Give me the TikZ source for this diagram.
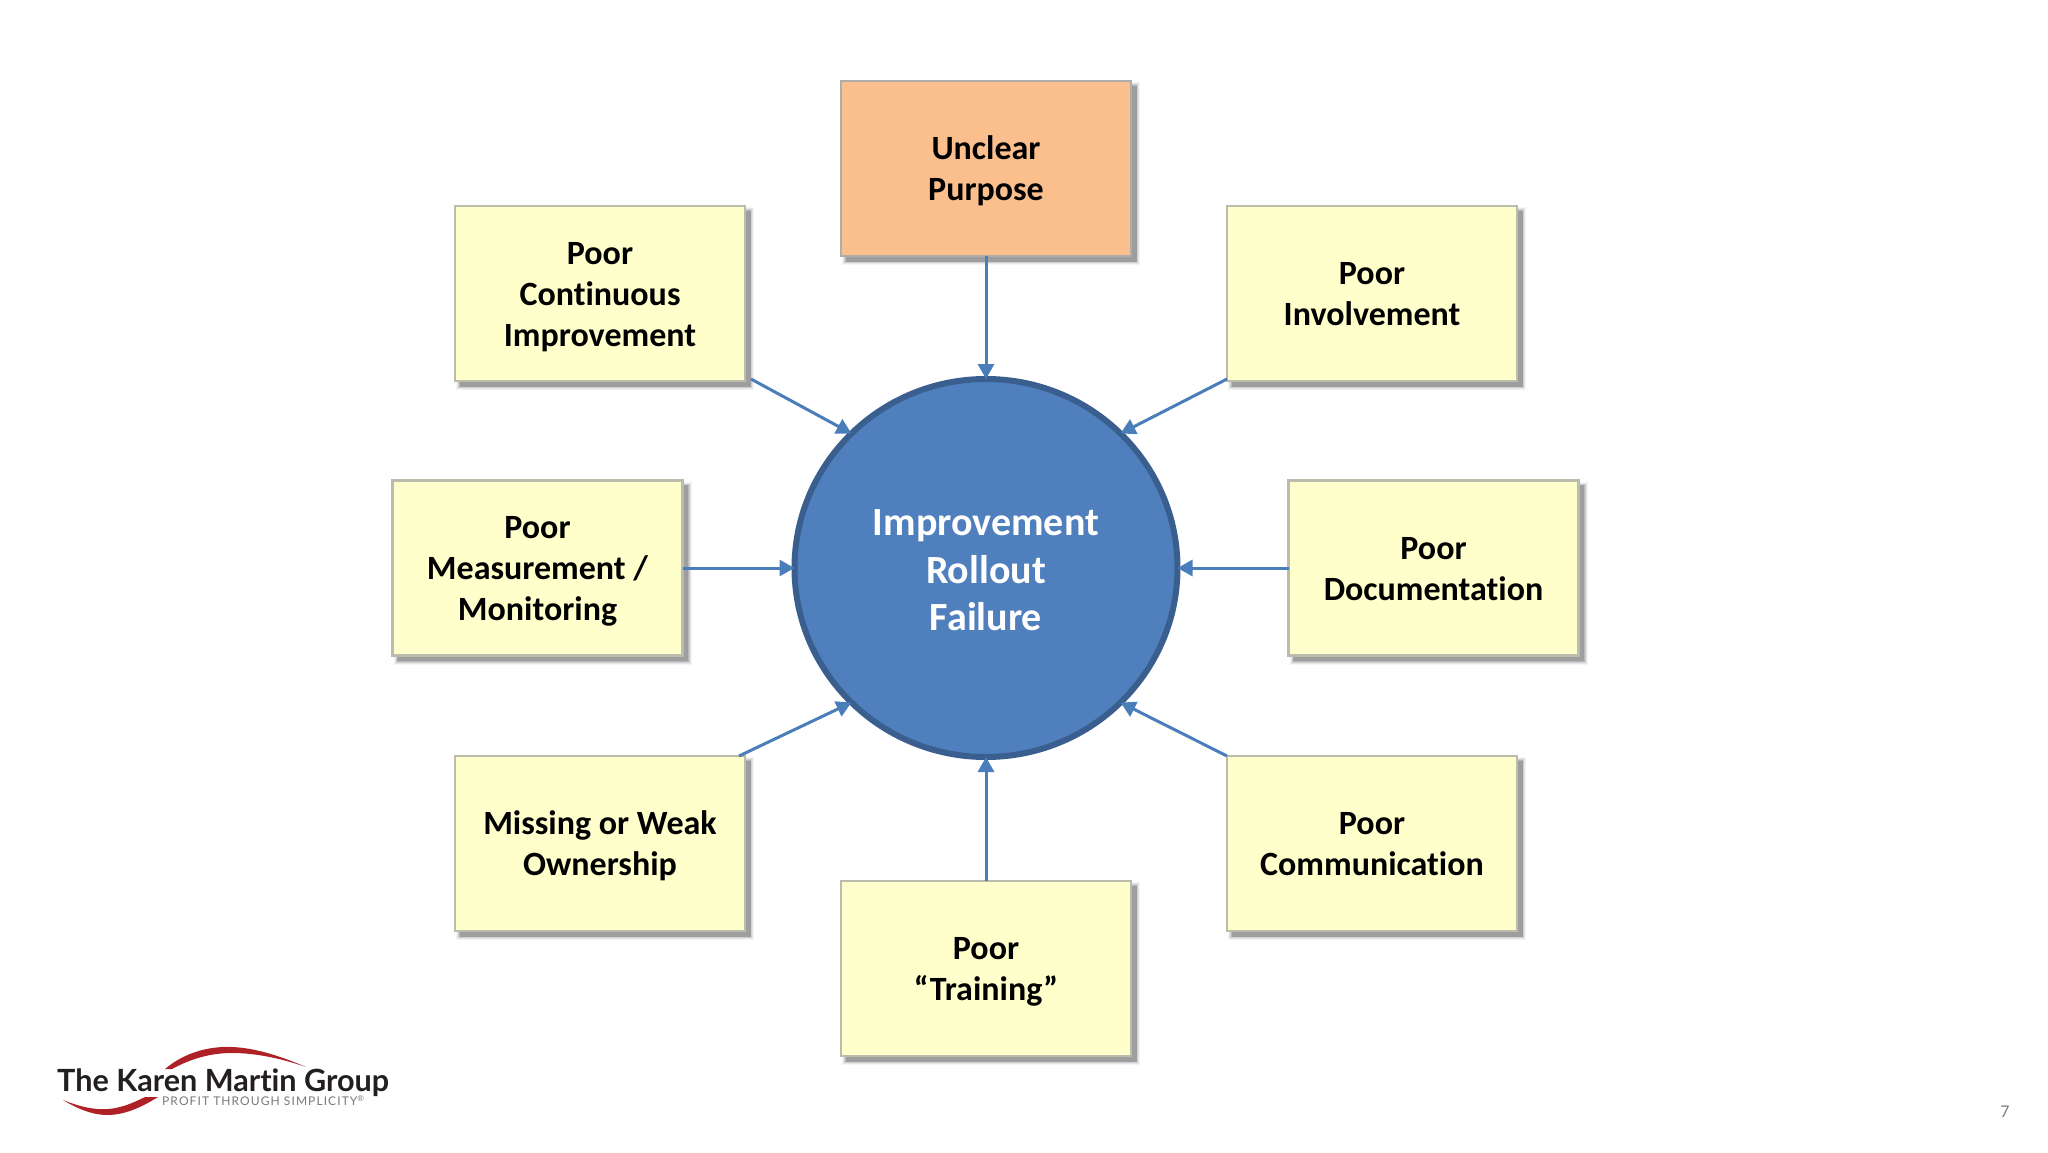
\documentclass[tikz,border=0pt]{standalone}
\usepackage{fontspec}
\setmainfont[Ligatures={NoCommon}]{Carlito}
\newfontfamily\logofont[Ligatures={NoCommon}]{Lato}
\newfontfamily\tagfont[LetterSpace=9,Ligatures={NoCommon}]{Lato}
\usetikzlibrary{shadows,arrows.meta,shapes.geometric}
\definecolor{boxfill}{HTML}{FFFFCC}
\definecolor{boxline}{HTML}{BCBCAC}
\definecolor{orangefill}{HTML}{FBBF8E}
\definecolor{orangeline}{HTML}{ADADAD}
\definecolor{circfill}{HTML}{4F7FBC}
\definecolor{circline}{HTML}{3A5F8E}
\definecolor{arrowblue}{HTML}{4A7EBB}
\definecolor{logored}{HTML}{AE2126}
\definecolor{logotext}{HTML}{231F20}
\definecolor{taggray}{HTML}{7A7A7A}
\newcommand{\tl}{\rule{0pt}{32pt}}
\newcommand{\bl}{\rule[-9pt]{0pt}{1pt}}
\tikzset{
  softshadow/.style={
    general shadow={shadow xshift=5pt,shadow yshift=-5pt,fill=black!4,draw=black!4,line width=8pt},
    general shadow={shadow xshift=5pt,shadow yshift=-5pt,fill=black!10,draw=black!10,line width=6pt},
    general shadow={shadow xshift=5pt,shadow yshift=-5pt,fill=black!18,draw=black!18,line width=4pt},
    general shadow={shadow xshift=5pt,shadow yshift=-5pt,fill=black!28,draw=black!28,line width=2pt},
    general shadow={shadow xshift=5pt,shadow yshift=-5pt,fill=black!38,draw=black!38,line width=0.5pt}},
  causebox/.style={rectangle,softshadow,draw=boxline,fill=boxfill,line width=2.5pt,
    minimum width=290pt,minimum height=175pt,inner sep=0pt,outer sep=0pt,align=center,
    text=black,font=\fontsize{34}{41}\selectfont\bfseries},
  orangebox/.style={causebox,draw=orangeline,fill=orangefill},
  hub/.style={ellipse,draw=circline,fill=circfill,line width=6pt,minimum width=383pt,minimum height=378pt,inner sep=0pt,
    outer sep=0pt,align=center,text=white,font=\fontsize{40}{47.5}\selectfont\bfseries},
  link/.style={draw=arrowblue,line width=3pt,-{Triangle[length=15pt,width=16pt]}}
}
\begin{document}
\begin{tikzpicture}[x=1pt,y=-1pt]
\useasboundingbox[fill=white] (0,0) rectangle (2048,1152);
\node[hub] (hubnode) at (986,568) {\rule{0pt}{34pt}Improvement\\Rollout\\Failure\rule[-4pt]{0pt}{1pt}};
\node[orangebox] (purpose) at (986,168.5) {\tl Unclear\\Purpose\bl};
\node[causebox] (cont) at (600,293.5) {\tl Poor\\Continuous\\Improvement\bl};
\node[causebox] (invol) at (1372,293.5) {\tl Poor\\Involvement\bl};
\node[causebox] (meas) at (537.5,568) {\tl Poor\\Measurement /\\Monitoring\bl};
\node[causebox] (docu) at (1433.5,568) {\tl Poor\\Documentation\bl};
\node[causebox] (owner) at (600,843.5) {\tl Missing or Weak\\Ownership\bl};
\node[causebox] (comm) at (1372,843.5) {\tl Poor\\Communication\bl};
\node[causebox] (train) at (986,968.5) {\tl Poor\\“Training”\bl};
\draw[link] (purpose.south) -- (hubnode.north);
\draw[link] (train.north) -- (hubnode.south);
\draw[link] (meas.east) -- (hubnode.west);
\draw[link] (docu.west) -- (hubnode.east);
\draw[link] ([shift={(6,-2)}]cont.south east) -- (hubnode.135);
\draw[link] ([shift={(0,-2)}]invol.south west) -- (hubnode.45);
\draw[link] ([shift={(-6,0)}]owner.north east) -- (hubnode.225);
\draw[link] (comm.north west) -- (hubnode.315);
% logo
\fill[logored] (165,1069) .. controls (185,1052) and (210,1046) .. (232,1047)
  .. controls (258,1048) and (285,1058) .. (306,1067)
  .. controls (280,1058) and (255,1053) .. (232,1053)
  .. controls (212,1053) and (192,1058) .. (172,1069) -- cycle;
\fill[logored] (63,1100) .. controls (80,1107) and (95,1110) .. (108,1109)
  .. controls (122,1108) and (135,1102) .. (145,1097) -- (158,1097)
  .. controls (142,1107) and (125,1115) .. (107,1115)
  .. controls (92,1115) and (76,1108) .. (63,1100) -- cycle;
\node[anchor=base west,inner sep=0pt,text=logotext,font=\logofont\fontsize{30.6}{30}\selectfont\bfseries] (logoname) at (57,1091) {The Karen Martin Group};
\node[anchor=base west,inner sep=0pt,text=taggray,font=\tagfont\fontsize{12}{12}\selectfont] (logotag) at (162,1105.5) {PROFIT THROUGH SIMPLICITY\textsuperscript{®}};
\node[anchor=center,inner sep=0pt,text=black!50,font=\fontsize{18}{18}\selectfont] (pagenum) at (2005,1112) {7};
\end{tikzpicture}
\end{document}
